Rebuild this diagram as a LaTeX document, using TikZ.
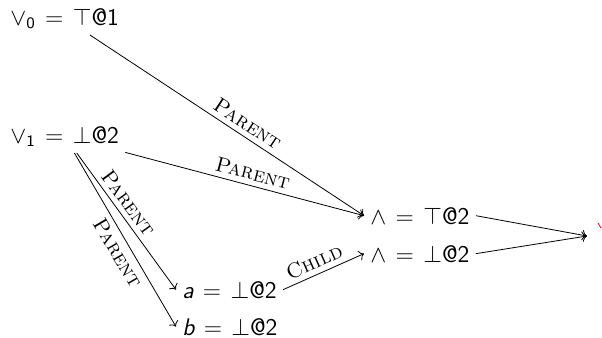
\documentclass[tikz,border=0pt]{standalone}
\usepackage{amsmath,amssymb}
\usepackage{tikz}
\usetikzlibrary{arrows.meta,positioning}

\newcommand{\eqq}{\mathrel{\mkern2mu=\mkern2mu}}

\begin{document}
\begin{tikzpicture}[
    x=0.5pt, y=-0.5pt,
    val/.style={font=\fontsize{12}{14}\selectfont\sffamily, inner sep=3pt, anchor=base west},
    lbl/.style={font=\fontsize{10.5}{13}\selectfont\scshape, sloped, inner sep=2.5pt},
    arrow/.style={->}
]
\useasboundingbox (0,0) rectangle (602,338);
\node[val] (v0) at (4, 25) {$\vee_{\mathsf{0}} \eqq \top$@1};
\node[val] (v1) at (4, 143) {$\vee_{\mathsf{1}} \eqq \bot$@2};
\node[val] (and1) at (364, 224) {$\wedge \eqq \top$@2};
\node[val] (and2) at (364, 262) {$\wedge \eqq \bot$@2};
\node[val] (a) at (176, 298) {$\textit{a} \eqq \bot$@2};
\node[val] (b) at (176, 335) {$\textit{b} \eqq \bot$@2};
\coordinate (out) at (587, 236);
\draw[arrow] (v0) -- node[lbl, above, pos=0.55] {Parent} (and1.west);
\draw[arrow] (v1) -- node[lbl, above, pos=0.52] {Parent} (and1.west);
\draw[arrow] (v1) -- node[lbl, above, pos=0.42] {Parent} (a.west);
\draw[arrow] (v1) -- node[lbl, below, pos=0.54] {Parent} (b.west);
\draw[arrow] (a.east) -- node[lbl, above, pos=0.45] {Child} (and2.west);
\draw[arrow] (and1.east) -- (out);
\draw[arrow] (and2.east) -- (out);
% red mark at the edge
\draw[red] (598, 223) -- (601, 228);
\end{tikzpicture}
\end{document}
